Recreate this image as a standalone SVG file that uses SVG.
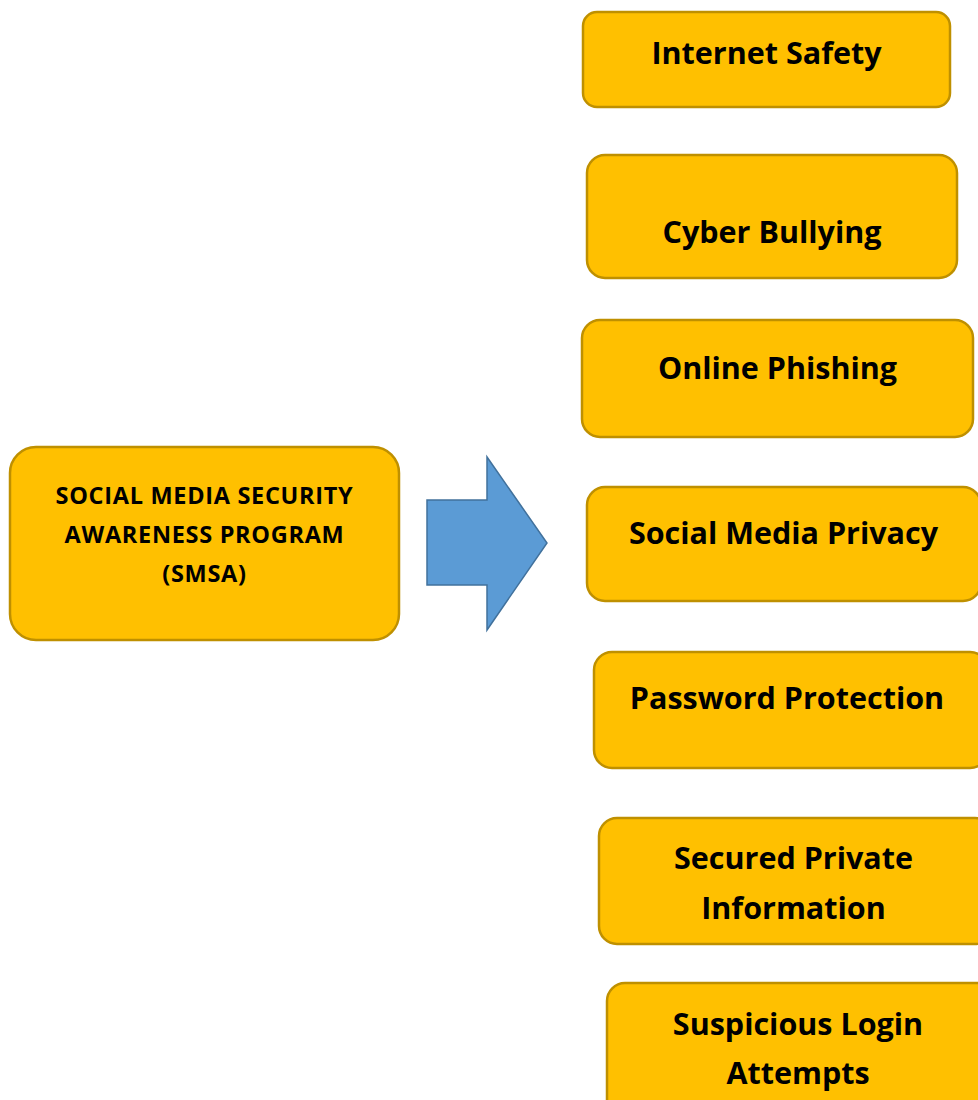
<svg xmlns="http://www.w3.org/2000/svg" width="978" height="1100" viewBox="0 0 978 1100">
<style>
.box{fill:#FFC000;stroke:#BF9000;stroke-width:2.5}
.t{font-family:"Open Sans","Liberation Sans",sans-serif;font-weight:bold;font-size:30.5px;fill:#000;text-anchor:middle}
.s{font-size:23.5px;letter-spacing:0.7px}
</style>
<rect width="978" height="1100" fill="#fff"/>
<g id="smsa">
<rect class="box" x="10" y="447" width="389" height="193" rx="26"/>
<text class="t s" x="204.5" y="504">SOCIAL MEDIA SECURITY</text>
<text class="t s" x="204.5" y="543">AWARENESS PROGRAM</text>
<text class="t s" x="204.5" y="582">(SMSA)</text>
</g>
<g id="connectors">
<path d="M427,500 H487 V457 L547,543 L487,630 V585 H427 Z" fill="#5B9BD5" stroke="#41719C" stroke-width="1.5"/>
</g>
<g id="internet-safety">
<rect class="box" x="583" y="12" width="367" height="95" rx="14"/>
<text class="t" x="766.5" y="64">Internet Safety</text>
</g>
<g id="cyber-bullying">
<rect class="box" x="587" y="155" width="370" height="123" rx="18"/>
<text class="t" x="772" y="243">Cyber Bullying</text>
</g>
<g id="online-phishing">
<rect class="box" x="582" y="320" width="391" height="117" rx="18"/>
<text class="t" x="777.5" y="379">Online Phishing</text>
</g>
<g id="social-media-privacy">
<rect class="box" x="587" y="487" width="394" height="114" rx="18"/>
<text class="t" x="783.5" y="544">Social Media Privacy</text>
</g>
<g id="password-protection">
<rect class="box" x="594" y="652" width="394" height="116" rx="18"/>
<text class="t" x="787" y="709">Password Protection</text>
</g>
<g id="secured-private-information">
<rect class="box" x="599" y="818" width="394" height="126" rx="18"/>
<text class="t" x="793.5" y="869">Secured Private</text>
<text class="t" x="793.5" y="919">Information</text>
</g>
<g id="suspicious-login-attempts">
<rect class="box" x="607" y="983" width="394" height="140" rx="18"/>
<text class="t" x="798" y="1035">Suspicious Login</text>
<text class="t" x="798" y="1084">Attempts</text>
</g>
</svg>
